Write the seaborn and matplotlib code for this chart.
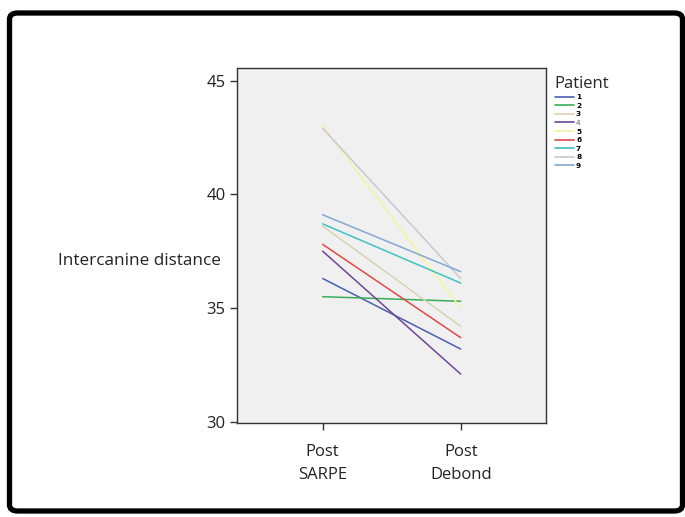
import matplotlib
matplotlib.use("Agg")
import matplotlib.pyplot as plt
import seaborn as sns
import pandas as pd
from matplotlib.patches import FancyBboxPatch
from matplotlib.lines import Line2D

sns.set_theme(style="white")
plt.rcParams['font.family'] = ['Open Sans', 'DejaVu Sans']

patients = ["1", "2", "3", "4", "5", "6", "7", "8", "9"]
timepoints = ["Post\nSARPE", "Post\nDebond"]
post_sarpe = [36.3, 35.5, 38.6, 37.5, 43.0, 37.8, 38.7, 42.9, 39.1]
post_debond = [33.2, 35.3, 34.2, 32.1, 35.0, 33.7, 36.1, 36.3, 36.6]
colors = ["#4a5fb0", "#3aae5a", "#d9d2b0", "#6e4596", "#f4f4a0",
          "#e04848", "#40c0c0", "#c8c8d2", "#80a8d2"]
yticks = [30, 35, 40, 45]

rows = []
for p, a, b in zip(patients, post_sarpe, post_debond):
    rows.append({"Patient": p, "Time": timepoints[0], "Value": a})
    rows.append({"Patient": p, "Time": timepoints[1], "Value": b})
df = pd.DataFrame(rows)

fig = plt.figure(figsize=(6.85, 5.17), dpi=100)
fig.patch.set_facecolor("white")

# outer frame
frame = FancyBboxPatch((9.5 / 685, 6 / 517), 673 / 685, 498 / 517,
                       boxstyle="round,pad=0,rounding_size=0.012",
                       transform=fig.transFigure, fill=False,
                       edgecolor="black", linewidth=3.8, zorder=0)
fig.patches.append(frame)

ax = fig.add_axes([236.7 / 685, 1 - 423 / 517, 309.3 / 685, 355 / 517])
ax.set_facecolor("#f0f0f0")

sns.lineplot(data=df, x="Time", y="Value", hue="Patient", palette=colors,
             hue_order=patients, ax=ax, linewidth=1.1, legend=False, sort=False)

ax.set_xlim(-0.623, 1.618)
ax.set_ylim(29.95, 45.55)
ax.set_yticks(yticks)
ax.set_yticklabels([str(t) for t in yticks])
ax.set_xticks([0, 1])
ax.set_xticklabels(timepoints)
ax.tick_params(axis="both", direction="out", length=5, width=1, color="#333333",
               labelsize=12, labelcolor="#222222", left=True, bottom=True)
ax.tick_params(axis="x", pad=10)
ax.tick_params(axis="y", pad=3)
for s in ax.spines.values():
    s.set_color("#333333")
    s.set_linewidth(1)

ax.set_xlabel("")
ax.set_ylabel("Intercanine distance", rotation=0, ha="right", va="center",
              fontsize=12.3, color="#222222")
ax.yaxis.set_label_coords(-0.052, 0.455)

for t in ax.get_xticklabels():
    t.set_linespacing(1.6)

# legend
handles = [Line2D([0], [0], color=c, linewidth=1.2) for c in colors]
leg = fig.legend(handles, patients, title="Patient", loc="upper left",
                 bbox_to_anchor=(551 / 685, 1 - 72 / 517), frameon=False,
                 prop={"family": "DejaVu Sans", "size": 5.3, "weight": "bold"},
                 title_fontsize=12, handlelength=2.6,
                 handletextpad=0.3, labelspacing=0.33, borderpad=0,
                 alignment="left")
for i, t in enumerate(leg.get_texts()):
    if patients[i] == "4":
        t.set_color("#666666")
        t.set_fontweight("normal")
    else:
        t.set_color("black")

fig.savefig("out.png", dpi=100)
